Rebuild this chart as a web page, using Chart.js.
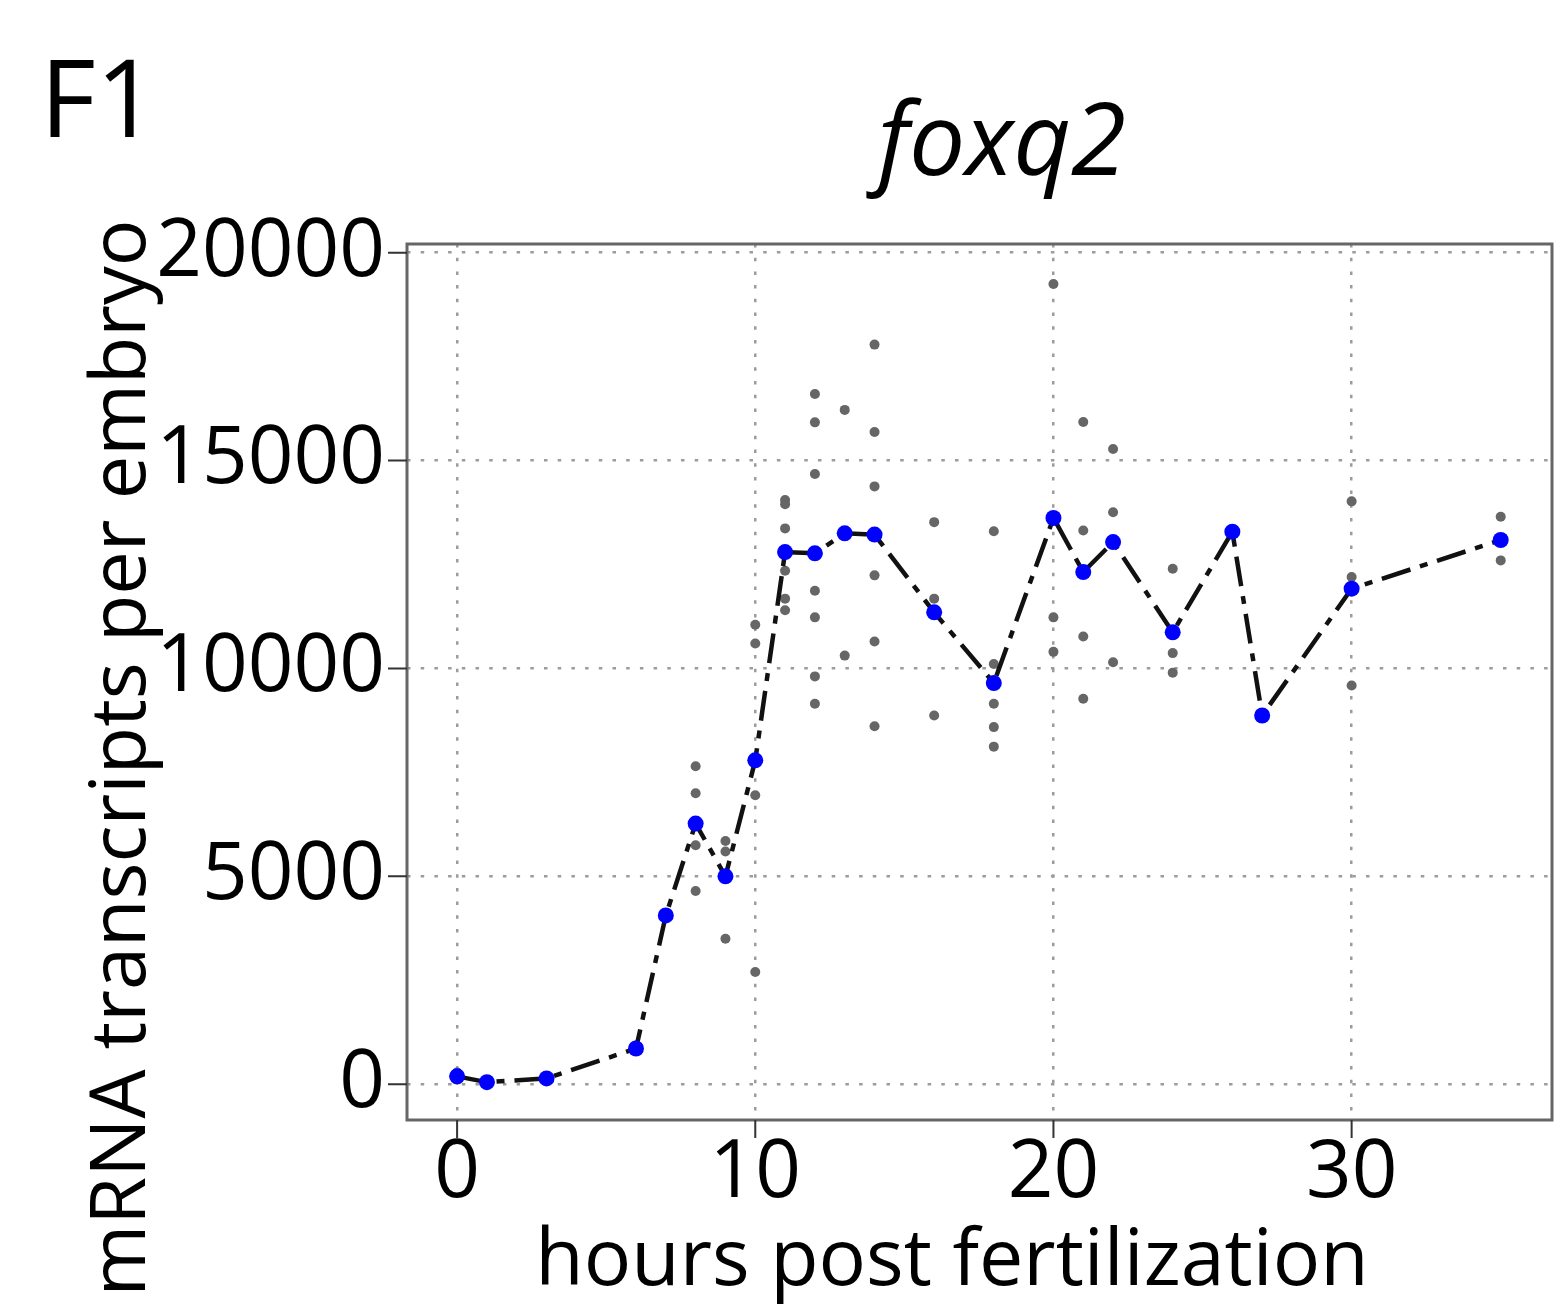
<!DOCTYPE html>
<html lang="en">
<head>
<meta charset="UTF-8">
<title>foxq2 expression</title>
<script src="https://cdn.jsdelivr.net/npm/chart.js"></script>
<style>
    html, body { margin: 0; padding: 0; background: #fff; }
    .chart-container { position: relative; width: 1560px; height: 1314px; }
</style>
</head>
<body>

<div class="chart-container">
    <canvas id="foxq2Chart"></canvas>
</div>

<script>
// mean per time point (blue dots, dash-dot line)
const meanHours  = [0, 1, 3, 6, 7, 8, 9, 10, 11, 12, 13, 14, 16, 18, 20, 21, 22, 24, 26, 27, 30, 35];
const meanValues = [190, 50, 140, 860, 4060, 6270, 5000, 7790, 12800, 12770, 13250, 13220,
                    11350, 9650, 13620, 12320, 13040, 10870, 13290, 8870, 11920, 13090];

// single replicates (grey dots)
const replicateHours = [0, 1, 3, 6, 8, 9, 10, 11, 12, 13, 14, 16, 18, 20, 21, 22, 24, 30, 35];
const replicateValues = [
    [280, 110],
    [70, 30],
    [190, 100],
    [930, 800],
    [7650, 7000, 5750, 4650],
    [5850, 5600, 3500],
    [11050, 10600, 6950, 2700],
    [14050, 13950, 13370, 12350, 11680, 11400],
    [16600, 15920, 14680, 11870, 11230, 9810, 9150],
    [16220, 10310],
    [17790, 15690, 14380, 12240, 10650, 8610],
    [13520, 11680, 8870],
    [13300, 10110, 9150, 8590, 8120],
    [19250, 11230, 10400],
    [15930, 13320, 10770, 9270],
    [15280, 13760, 10150],
    [12400, 10370, 9900],
    [14020, 12200, 9590],
    [13650, 12600]
];

const xTicks = [0, 10, 20, 30];
const yTicks = [0, 5000, 10000, 15000, 20000];

const FONT = "'Open Sans', 'Noto Sans', sans-serif";

const replicatePoints = [];
replicateHours.forEach((h, i) => {
    replicateValues[i].forEach(v => replicatePoints.push({ x: h, y: v }));
});
const meanPoints = meanHours.map((h, i) => ({ x: h, y: meanValues[i] }));

// box around the plot, outside tick marks, panel texts
const panelText = {
    id: 'panelText',
    beforeDatasetsDraw(chart) {
        const { ctx, chartArea: a, scales } = chart;
        ctx.save();
        ctx.strokeStyle = '#666';
        ctx.lineWidth = 3;
        ctx.strokeRect(a.left, a.top, a.right - a.left, a.bottom - a.top);

        ctx.strokeStyle = '#333';
        ctx.lineWidth = 2;
        ctx.beginPath();
        yTicks.forEach(v => {
            const y = scales.y.getPixelForValue(v);
            ctx.moveTo(a.left - 19, y);
            ctx.lineTo(a.left, y);
        });
        xTicks.forEach(v => {
            const x = scales.x.getPixelForValue(v);
            ctx.moveTo(x, a.bottom);
            ctx.lineTo(x, a.bottom + 18);
        });
        ctx.stroke();
        ctx.restore();
    },
    afterDraw(chart) {
        const ctx = chart.ctx;
        ctx.save();
        ctx.fillStyle = '#000';
        ctx.textBaseline = 'alphabetic';

        ctx.font = '108px ' + FONT;
        ctx.textAlign = 'left';
        ctx.fillText('F1', 40, 137);

        ctx.font = 'italic 100px ' + FONT;
        ctx.textAlign = 'center';
        ctx.fillText('foxq2', 1002, 175);

        ctx.font = '79px ' + FONT;
        ctx.fillText('hours post fertilization', 952, 1285);

        ctx.translate(145, 758);
        ctx.rotate(-Math.PI / 2);
        ctx.font = '77.5px ' + FONT;
        ctx.fillText('mRNA transcripts per embryo', 0, 0);
        ctx.restore();
    }
};

const ctx = document.getElementById('foxq2Chart').getContext('2d');
new Chart(ctx, {
    type: 'scatter',
    data: {
        datasets: [
            {
                label: 'mean',
                type: 'line',
                data: meanPoints,
                order: 0,
                borderColor: '#111',
                borderWidth: 4.5,
                borderDash: [30, 10, 8, 10],
                pointRadius: 8,
                pointBackgroundColor: '#0000ff',
                pointBorderWidth: 0,
                tension: 0,
                fill: false
            },
            {
                label: 'replicates',
                data: replicatePoints,
                order: 1,
                pointRadius: 5,
                pointBackgroundColor: '#666',
                pointBorderWidth: 0
            }
        ]
    },
    options: {
        responsive: true,
        maintainAspectRatio: false,
        animation: false,
        layout: { padding: { top: 244, right: 6, left: 0, bottom: 0 } },
        plugins: {
            legend: { display: false },
            tooltip: { enabled: false }
        },
        scales: {
            x: {
                type: 'linear',
                min: -1.68,
                max: 36.72,
                afterFit: s => { s.height = 194; },
                afterBuildTicks: s => { s.ticks = xTicks.map(v => ({ value: v })); },
                border: { display: false, dash: [3.5, 10.2] },
                grid: {
                    color: '#9c9c9c',
                    lineWidth: 2.5,
                    drawTicks: false
                },
                ticks: {
                    color: '#000',
                    padding: 14,
                    maxRotation: 0,
                    callback: v => String(v),
                    font: { family: FONT, size: 80, lineHeight: 1 }
                }
            },
            y: {
                type: 'linear',
                min: -860,
                max: 20210,
                afterFit: s => { s.width = 407; },
                afterBuildTicks: s => { s.ticks = yTicks.map(v => ({ value: v })); },
                border: { display: false, dash: [3.5, 10.2] },
                grid: {
                    color: '#9c9c9c',
                    lineWidth: 2.5,
                    drawTicks: false
                },
                ticks: {
                    color: '#000',
                    padding: 22,
                    callback: v => String(v),
                    font: { family: FONT, size: 80, lineHeight: 1 }
                }
            }
        }
    },
    plugins: [panelText]
});
</script>

</body>
</html>
